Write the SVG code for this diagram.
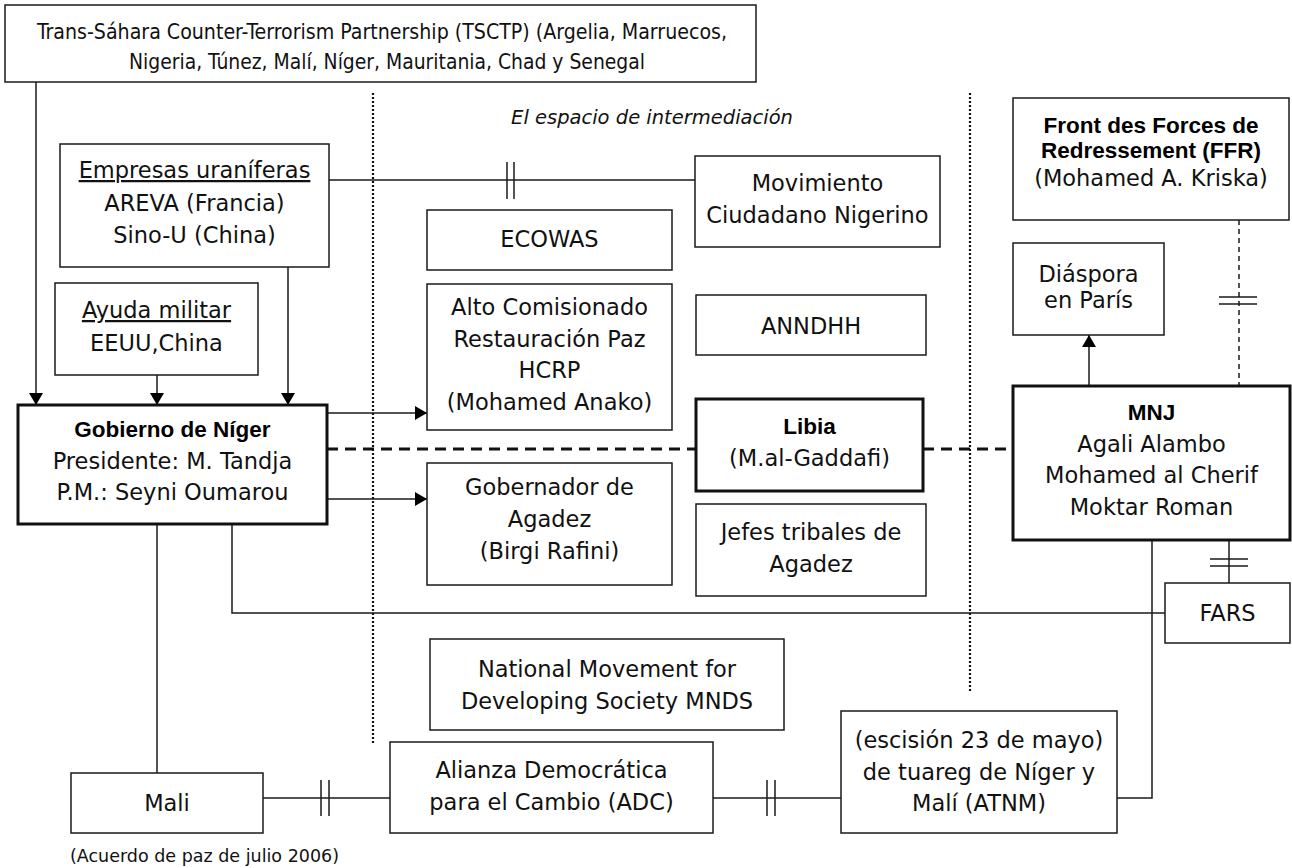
<svg xmlns="http://www.w3.org/2000/svg" width="1292" height="868" viewBox="0 0 1292 868">
<defs>
<style>
.box{fill:#fff;stroke:#1a1a1a;stroke-width:1.5}
.thick{fill:#fff;stroke:#111;stroke-width:3}
.t{font-family:"DejaVu Sans","Open Sans",sans-serif;font-size:22.5px;fill:#111;text-anchor:middle}
.b{font-family:"Liberation Sans",Arial,sans-serif;font-weight:bold;font-size:22.5px;fill:#000;text-anchor:middle}
.n{font-family:"Liberation Sans Narrow","DejaVu Sans Condensed",sans-serif;font-size:21px;fill:#111;text-anchor:middle}
.i{font-family:"DejaVu Sans",sans-serif;font-style:italic;font-size:19.5px;fill:#111;text-anchor:middle}
.s{font-family:"DejaVu Sans",sans-serif;font-size:17.5px;fill:#111}
.ln{stroke:#1a1a1a;stroke-width:1.5;fill:none}
.dash{stroke:#111;stroke-width:3;stroke-dasharray:11 7;fill:none}
.thin-dash{stroke:#1a1a1a;stroke-width:1.5;stroke-dasharray:5 4;fill:none}
.dot{stroke:#111;stroke-width:2.2;stroke-dasharray:2 2;fill:none}
</style>
<marker id="arr" viewBox="0 0 12 14" refX="12" refY="7" markerWidth="12" markerHeight="14" markerUnits="userSpaceOnUse" orient="auto">
<path d="M0,0 L12,7 L0,14 Z" fill="#000"/>
</marker>
</defs>
<rect width="1292" height="868" fill="#fff"/>

<g id="separators">
<line class="dot" x1="373" y1="93" x2="373" y2="744"/>
<line class="dot" x1="970" y1="93" x2="970" y2="693"/>
<text class="i" x="652" y="124">El espacio de intermediación</text>
</g>

<g id="connectors">
<line class="ln" x1="36" y1="82" x2="36" y2="405" marker-end="url(#arr)"/>
<line class="ln" x1="157" y1="375" x2="157" y2="405" marker-end="url(#arr)"/>
<line class="ln" x1="288" y1="267" x2="288" y2="405" marker-end="url(#arr)"/>
<line class="ln" x1="329" y1="180" x2="695" y2="180"/>
<line class="ln" x1="507" y1="162" x2="507" y2="199"/>
<line class="ln" x1="514" y1="162" x2="514" y2="199"/>
<line class="ln" x1="327" y1="413" x2="427" y2="413" marker-end="url(#arr)"/>
<line class="ln" x1="327" y1="499" x2="427" y2="499" marker-end="url(#arr)"/>
<line class="dash" x1="327" y1="449" x2="696" y2="449"/>
<line class="dash" x1="923" y1="449" x2="1013" y2="449"/>
<line class="ln" x1="157" y1="524" x2="157" y2="773"/>
<polyline class="ln" points="232,524 232,613 1165,613"/>
<line class="ln" x1="1089" y1="386" x2="1089" y2="335" marker-end="url(#arr)"/>
<line class="thin-dash" x1="1239" y1="220" x2="1239" y2="386"/>
<line class="ln" x1="1219" y1="297" x2="1257" y2="297"/>
<line class="ln" x1="1219" y1="304" x2="1257" y2="304"/>
<line class="ln" x1="1229" y1="540" x2="1229" y2="583"/>
<line class="ln" x1="1210" y1="559" x2="1248" y2="559"/>
<line class="ln" x1="1210" y1="566" x2="1248" y2="566"/>
<polyline class="ln" points="1152,540 1152,798 1117,798"/>
<line class="ln" x1="263" y1="798" x2="390" y2="798"/>
<line class="ln" x1="321" y1="780" x2="321" y2="816"/>
<line class="ln" x1="329" y1="780" x2="329" y2="816"/>
<line class="ln" x1="713" y1="798" x2="841" y2="798"/>
<line class="ln" x1="767" y1="780" x2="767" y2="816"/>
<line class="ln" x1="775" y1="780" x2="775" y2="816"/>
</g>

<g id="tsctp">
<rect class="box" x="5" y="5" width="751" height="77"/>
<text class="n" x="382" y="39" textLength="690" lengthAdjust="spacingAndGlyphs">Trans-Sáhara Counter-Terrorism Partnership (TSCTP) (Argelia, Marruecos,</text>
<text class="n" x="387" y="69" textLength="516" lengthAdjust="spacingAndGlyphs">Nigeria, Túnez, Malí, Níger, Mauritania, Chad y Senegal</text>
</g>

<g id="empresas">
<rect class="box" x="60" y="144" width="269" height="123"/>
<text class="t" x="194.5" y="178" text-decoration="underline">Empresas uraníferas</text>
<text class="t" x="194.5" y="211">AREVA (Francia)</text>
<text class="t" x="194.5" y="243">Sino-U (China)</text>
</g>

<g id="ayuda">
<rect class="box" x="55" y="283" width="203" height="92"/>
<text class="t" x="156.5" y="318" text-decoration="underline">Ayuda militar</text>
<text class="t" x="156.5" y="351">EEUU,China</text>
</g>

<g id="gobierno">
<rect class="thick" x="18" y="405" width="309" height="119"/>
<text class="b" x="172.5" y="437">Gobierno de Níger</text>
<text class="t" x="172.5" y="469">Presidente: M. Tandja</text>
<text class="t" x="172.5" y="500">P.M.: Seyni Oumarou</text>
</g>

<g id="movimiento">
<rect class="box" x="695" y="156" width="245" height="91"/>
<text class="t" x="817.5" y="191">Movimiento</text>
<text class="t" x="817.5" y="223">Ciudadano Nigerino</text>
</g>

<g id="ecowas">
<rect class="box" x="427" y="210" width="245" height="60"/>
<text class="t" x="549.5" y="247">ECOWAS</text>
</g>

<g id="alto">
<rect class="box" x="427" y="284" width="245" height="146"/>
<text class="t" x="549.5" y="315">Alto Comisionado</text>
<text class="t" x="549.5" y="347">Restauración Paz</text>
<text class="t" x="549.5" y="378">HCRP</text>
<text class="t" x="549.5" y="410">(Mohamed Anako)</text>
</g>

<g id="anndhh">
<rect class="box" x="696" y="295" width="230" height="60"/>
<text class="t" x="811" y="334">ANNDHH</text>
</g>

<g id="libia">
<rect class="thick" x="696" y="399" width="227" height="92"/>
<text class="b" x="809.5" y="434">Libia</text>
<text class="t" x="809.5" y="466">(M.al-Gaddafi)</text>
</g>

<g id="gobernador">
<rect class="box" x="427" y="463" width="245" height="122"/>
<text class="t" x="549.5" y="495">Gobernador de</text>
<text class="t" x="549.5" y="527">Agadez</text>
<text class="t" x="549.5" y="559">(Birgi Rafini)</text>
</g>

<g id="jefes">
<rect class="box" x="696" y="504" width="230" height="92"/>
<text class="t" x="811" y="540">Jefes tribales de</text>
<text class="t" x="811" y="572">Agadez</text>
</g>

<g id="ffr">
<rect class="box" x="1013" y="98" width="276" height="122"/>
<text class="b" x="1151" y="133">Front des Forces de</text>
<text class="b" x="1151" y="158">Redressement (FFR)</text>
<text class="t" x="1151" y="186">(Mohamed A. Kriska)</text>
</g>

<g id="diaspora">
<rect class="box" x="1013" y="243" width="151" height="92"/>
<text class="t" x="1088.5" y="282">Diáspora</text>
<text class="t" x="1088.5" y="308">en París</text>
</g>

<g id="mnj">
<rect class="thick" x="1013" y="386" width="277" height="154"/>
<text class="b" x="1151.5" y="420">MNJ</text>
<text class="t" x="1151.5" y="452">Agali Alambo</text>
<text class="t" x="1151.5" y="483">Mohamed al Cherif</text>
<text class="t" x="1151.5" y="515">Moktar Roman</text>
</g>

<g id="fars">
<rect class="box" x="1165" y="583" width="125" height="60"/>
<text class="t" x="1227.5" y="621">FARS</text>
</g>

<g id="mnds">
<rect class="box" x="430" y="639" width="354" height="91"/>
<text class="t" x="607" y="677">National Movement for</text>
<text class="t" x="607" y="709">Developing Society MNDS</text>
</g>

<g id="mali">
<rect class="box" x="71" y="773" width="192" height="60"/>
<text class="t" x="167" y="811">Mali</text>
<text class="s" x="70" y="862">(Acuerdo de paz de julio 2006)</text>
</g>

<g id="adc">
<rect class="box" x="390" y="742" width="323" height="91"/>
<text class="t" x="551.5" y="778">Alianza Democrática</text>
<text class="t" x="551.5" y="810">para el Cambio (ADC)</text>
</g>

<g id="atnm">
<rect class="box" x="841" y="711" width="276" height="122"/>
<text class="t" x="979" y="748">(escisión 23 de mayo)</text>
<text class="t" x="979" y="780">de tuareg de Níger y</text>
<text class="t" x="979" y="811">Malí (ATNM)</text>
</g>
</svg>
